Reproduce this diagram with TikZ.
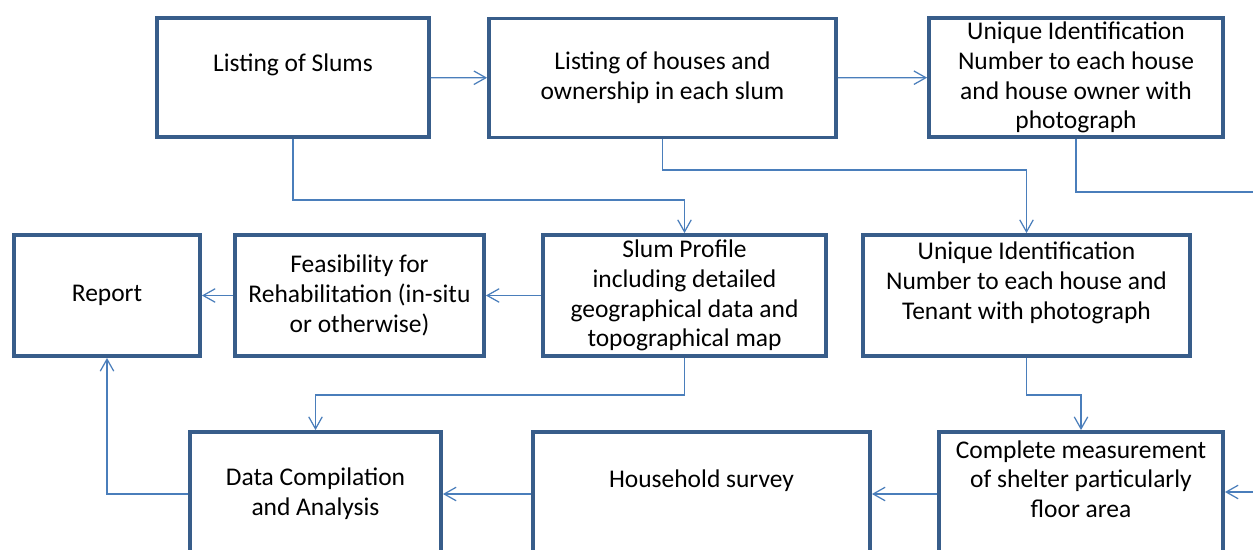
\documentclass[tikz,border=0pt]{standalone}
\usepackage{fontspec}
\setmainfont{Carlito}
\usepackage{tikz}
\usetikzlibrary{arrows.meta,positioning}
\definecolor{boxblue}{HTML}{385D8A}
\definecolor{flowblue}{HTML}{4A7EBB}
\tikzset{
  caja/.style={rectangle,draw=boxblue,line width=2.2pt,fill=white,
    align=center,inner sep=2pt,text=black},
  flujo/.style={-{Straight Barb[length=2.4mm,width=2.7mm]},line width=0.7pt,draw=flowblue}
}
\begin{document}
\begin{tikzpicture}[
  x=0.02cm,y=-0.02cm,
  font=\fontsize{14.5}{17}\selectfont,
  fila1/.style={caja,minimum height=2.38cm},
  fila2/.style={caja,minimum height=2.42cm},
  fila3/.style={caja,minimum height=2.48cm}
]
\useasboundingbox (0,0) rectangle (1253,550);
\fill[white] (0,0) rectangle (1253,550);
\clip (0,0) rectangle (1253,550);

% 1. Listados y numeracion
\node[fila1,minimum width=5.44cm] (slums) at (293,77.5)
  {Listing of Slums\\ \mbox{}};
\node[fila1,minimum width=6.94cm] (houses) at (662.5,78)
  {Listing of houses and\\ownership in each slum};
\node[fila1,minimum width=5.88cm] (uidowner) at (1076,77.5)
  {Unique Identification\\Number to each house\\and house owner with\\photograph};

\draw[flujo] (slums)--(houses);
\draw[flujo] (houses)--(uidowner);

% 2. Perfil del slum y factibilidad
\node[fila2,minimum width=3.72cm] (report) at (107,295.5) {Report};
\node[fila2,minimum width=4.98cm] (feasib) at (359.5,295.5)
  {Feasibility for\\Rehabilitation (in-situ\\or otherwise)};
\node[fila2,minimum width=5.66cm] (profile) at (684.5,295.5)
  {Slum Profile\\including detailed\\geographical data and\\topographical map};
\node[fila2,minimum width=6.54cm] (uidtenant) at (1026.5,295.5)
  {Unique Identification\\Number to each house and\\Tenant with photograph\\ \mbox{}};

\coordinate (codoA) at (0,200);
\coordinate (codoB) at (0,170);
\coordinate (codoC) at (0,192);
\coordinate (salida) at (1265,192);
\draw[flujo] (slums.south)--(slums.south |- codoA) -| (profile.north);
\draw[flujo] (houses.south)--(houses.south |- codoB) -| (uidtenant.north);
\draw[thin,draw=flowblue,line width=0.7pt] (uidowner.south)--(uidowner.south |- codoC)--(salida);
\draw[flujo] (profile)--(feasib);
\draw[flujo] (feasib)--(report);

% 3. Levantamiento y compilacion
\node[fila3,minimum width=5.02cm] (datacomp) at (315.5,494)
  {Data Compilation\\and Analysis};
\node[fila3,minimum width=6.74cm] (household) at (701.5,494)
  {Household survey\\ \mbox{}};
\node[fila3,minimum width=5.68cm] (measure) at (1081,494)
  {Complete measurement\\of shelter particularly\\floor area\\ \mbox{}};

\coordinate (codoD) at (0,395);
\coordinate (entrada) at (1265,492);
\draw[flujo] (profile.south)--(profile.south |- codoD) -| (datacomp.north);
\draw[flujo] (uidtenant.south)--(uidtenant.south |- codoD) -| (measure.north);
\draw[flujo] (entrada)--(measure.east |- entrada);
\draw[flujo] (measure)--(household);
\draw[flujo] (household)--(datacomp);
\draw[flujo] (datacomp.west) -| (report.south);

\end{tikzpicture}
\end{document}
